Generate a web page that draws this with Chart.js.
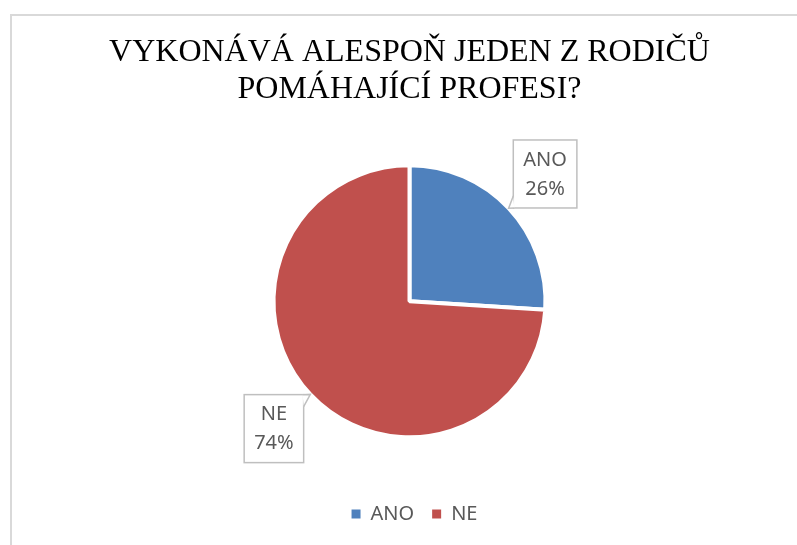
<!DOCTYPE html>
<html>
<head>
<meta charset="utf-8">
<script src="https://cdn.jsdelivr.net/npm/chart.js@4"></script>
<style>
    html, body { margin: 0; padding: 0; background: #fff; }
</style>
</head>
<body>
<canvas id="pieChart" width="797" height="545"></canvas>
<script>
// Chart data
const titleLines = ["VYKONÁVÁ ALESPOŇ JEDEN Z RODIČŮ", "POMÁHAJÍCÍ PROFESI?"];
const categories = ["ANO", "NE"];
const shares = [26, 74];
const sliceColors = ["#4F81BD", "#C0504D"];

// Light frame around the chart (left and top edges only are visible)
const chartFrame = {
    id: "chartFrame",
    beforeDraw(chart) {
        const ctx = chart.ctx;
        ctx.save();
        ctx.fillStyle = "#fff";
        ctx.fillRect(0, 0, chart.width, chart.height);
        ctx.strokeStyle = "#d9d9d9";
        ctx.lineWidth = 2;
        ctx.strokeRect(11, 15, chart.width + 20, chart.height + 20);
        ctx.restore();
    },
    // legend sits a little right of the pie centre in the original
    afterLayout(chart) {
        if (chart.legend) {
            chart.legend.left += 5;
            chart.legend.right += 5;
        }
    }
};

// Callout boxes with category name and percentage
const calloutLabels = {
    id: "calloutLabels",
    afterDatasetsDraw(chart) {
        const ctx = chart.ctx;
        const meta = chart.getDatasetMeta(0);
        const total = shares.reduce((a, b) => a + b, 0);
        ctx.save();
        ctx.font = '20px "Noto Sans"';
        meta.data.forEach((arc, i) => {
            const p = arc.getProps(["x", "y", "startAngle", "endAngle", "outerRadius"], true);
            const mid = (p.startAngle + p.endAngle) / 2;
            const cos = Math.cos(mid), sin = Math.sin(mid);
            const cx = p.x + cos * (p.outerRadius + 50);
            const cy = p.y + sin * (p.outerRadius + 50);
            const lines = [categories[i], Math.round(shares[i] / total * 100) + "%"];
            const w = Math.max(...lines.map(t => ctx.measureText(t).width)) + 20;
            const h = 68;
            const left = cx - w / 2, top = cy - h / 2;

            const ax = p.x + cos * p.outerRadius;
            const ay = p.y + sin * p.outerRadius;
            const kx = cos > 0 ? left : left + w;
            const ky = sin > 0 ? top : top + h;
            const vy = ky + (sin > 0 ? 12 : -12);

            ctx.fillStyle = "#fff";
            ctx.fillRect(left, top, w, h);
            ctx.strokeStyle = "#bfbfbf";
            ctx.lineWidth = 1.5;
            ctx.strokeRect(left, top, w, h);

            // pointer wedge towards the slice
            ctx.beginPath();
            ctx.moveTo(kx, vy);
            ctx.lineTo(ax, ay);
            ctx.lineTo(kx + (cos > 0 ? 1 : -1), ky);
            ctx.closePath();
            ctx.fill();
            ctx.beginPath();
            ctx.moveTo(kx, vy);
            ctx.lineTo(ax, ay);
            ctx.lineTo(kx + (cos > 0 ? 1 : -1), ky);
            ctx.stroke();

            ctx.fillStyle = "#595959";
            ctx.textAlign = "center";
            ctx.textBaseline = "middle";
            ctx.fillText(lines[0], cx, cy - 14);
            ctx.fillText(lines[1], cx, cy + 15);
        });
        ctx.restore();
    }
};

const pieCtx = document.getElementById("pieChart");

new Chart(pieCtx, {
    type: "pie",
    data: {
        labels: categories,
        datasets: [{
            data: shares,
            backgroundColor: sliceColors,
            borderColor: "#fff",
            borderWidth: 4,
            radius: 136
        }]
    },
    options: {
        responsive: false,
        animation: false,
        layout: {
            padding: { left: 22, right: 0, top: 0, bottom: 11 }
        },
        plugins: {
            title: {
                display: true,
                text: titleLines,
                color: "#000",
                font: {
                    family: '"Liberation Serif", "Times New Roman", serif',
                    size: 32,
                    weight: "normal",
                    lineHeight: 1.15
                },
                padding: { top: 34, bottom: 9 }
            },
            legend: {
                position: "bottom",
                labels: {
                    color: "#595959",
                    font: { family: '"Noto Sans"', size: 20 },
                    boxWidth: 9,
                    boxHeight: 9,
                    padding: 18,
                    generateLabels(chart) {
                        const items = Chart.overrides.pie.plugins.legend.labels.generateLabels(chart);
                        items.forEach(item => {
                            item.lineWidth = 0;
                            item.strokeStyle = "transparent";
                        });
                        return items;
                    }
                }
            },
            tooltip: { enabled: false }
        }
    },
    plugins: [chartFrame, calloutLabels]
});
</script>
</body>
</html>
